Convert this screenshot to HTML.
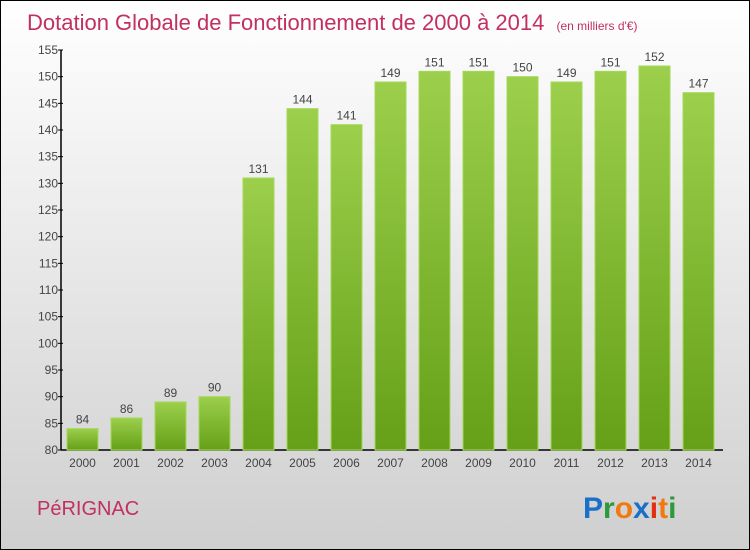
<!DOCTYPE html>
<html><head><meta charset="utf-8"><style>
body{margin:0}
#wrap{position:relative;width:748px;height:548px;border:1px solid #000;background:linear-gradient(#ffffff,#cfcfcf);font-family:"Liberation Sans",sans-serif;overflow:hidden}
</style></head><body>
<div id="wrap">
<svg width="748" height="548" xmlns="http://www.w3.org/2000/svg" id="svg">
<defs><linearGradient id="bg" x1="0" y1="0" x2="0" y2="1"><stop offset="0" stop-color="#9ccf4c"/><stop offset="1" stop-color="#65a018"/></linearGradient></defs>
<text x="26" y="29" font-size="22" fill="#c2305f">Dotation Globale de Fonctionnement de 2000 à 2014 <tspan font-size="12" dx="6">(en milliers d'€)</tspan></text>
<text x="36" y="514" font-size="20" fill="#c2305f">PéRIGNAC</text>
<g id="logo" font-size="30" font-weight="bold">
<text x="582" y="517"><tspan fill="#1a6fc8">P</tspan><tspan fill="#2a9a3a">r</tspan><tspan fill="#f07a10">o</tspan><tspan fill="#1a6fc8">x</tspan><tspan fill="#e03010">i</tspan><tspan fill="#f07a10">t</tspan><tspan fill="#2a9a3a">i</tspan></text></g>
<g id="axes"></g><g id="bars"></g>
</svg></div>
<script>
const categories=["2000","2001","2002","2003","2004","2005","2006","2007","2008","2009","2010","2011","2012","2013","2014"];
const values=[84,86,89,90,131,144,141,149,151,151,150,149,151,152,147];
const yTicks=[80,85,90,95,100,105,110,115,120,125,130,135,140,145,150,155];
const NS="http://www.w3.org/2000/svg";
const y0=449,yTop=49,vMin=80,vMax=155;
function yS(v){return y0-(v-vMin)/(vMax-vMin)*(y0-yTop);}
function xS(i){return 66+44*i;}
const bw=31;
function mk(t,a,p){const e=document.createElementNS(NS,t);for(const k in a)e.setAttribute(k,a[k]);p.appendChild(e);return e;}
const ax=document.getElementById('axes'),bars=document.getElementById('bars');
let l=mk('line',{x1:60,y1:yTop,x2:60,y2:y0,stroke:'#000','stroke-width':1.5},ax);


l=mk('line',{x1:60,y1:y0,x2:722,y2:y0,stroke:'#000','stroke-width':1.5},ax);


yTicks.forEach(v=>{const y=yS(v);
 mk('line',{x1:57,y1:y,x2:62,y2:y,stroke:'#000'},ax);
 const t=mk('text',{x:57,y:y+4,'font-size':12,fill:'#444','text-anchor':'end'},ax);t.textContent=v;
 
 
});
categories.forEach((c,i)=>{const x=xS(i),y=yS(values[i]);
 const r=mk('rect',{x:x,y:y,width:bw,height:y0-y,fill:'url(#bg)',stroke:'#a4d858','stroke-width':1},bars);
 
 
 const t=mk('text',{x:x+bw/2,y:y-5,'font-size':12,fill:'#444','text-anchor':'middle'},bars);t.textContent=values[i];
 
 
 const c2=mk('text',{x:x+bw/2,y:466,'font-size':12,fill:'#444','text-anchor':'middle'},bars);c2.textContent=c;
 
 
});
</script>
</body></html>
